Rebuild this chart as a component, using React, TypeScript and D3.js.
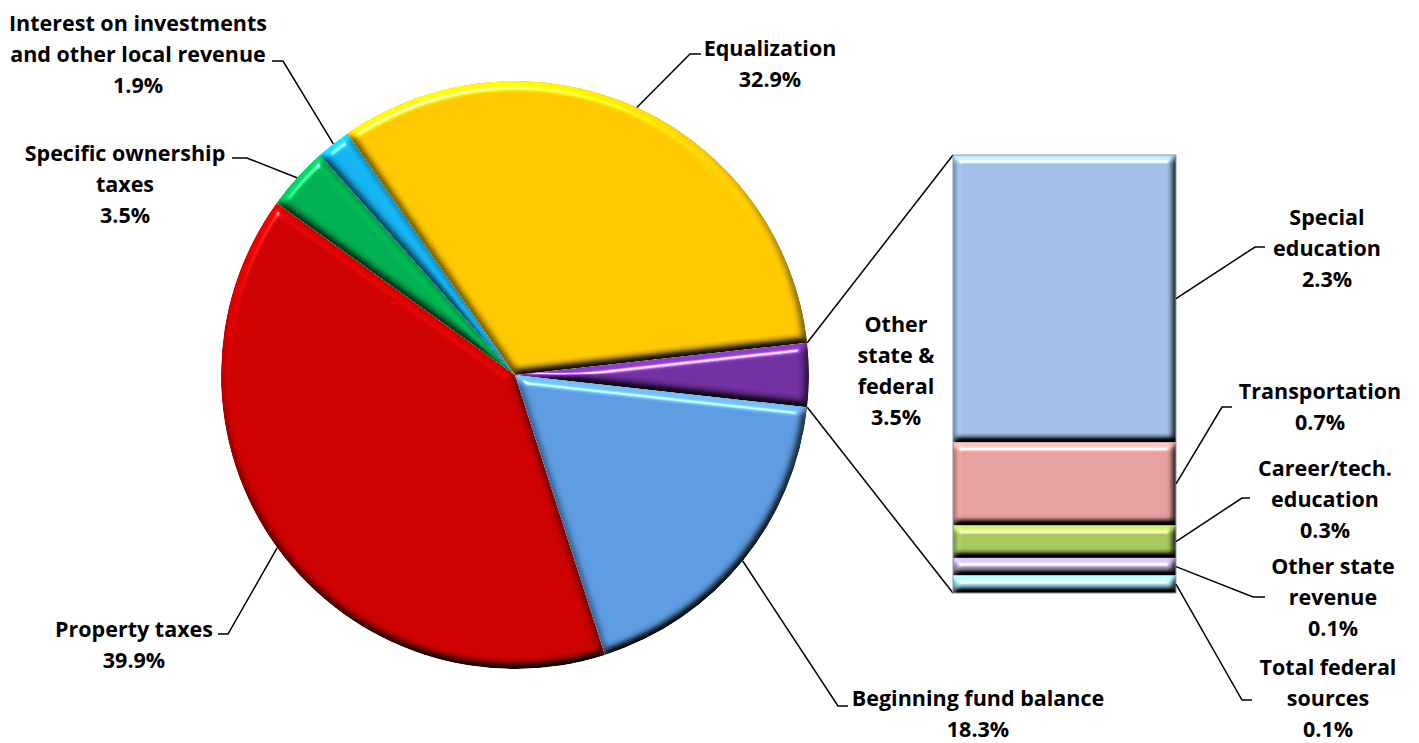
import * as d3 from 'd3'

// pie slices, clockwise starting with the "other" slice at 3 o'clock
const categories = [
  'Other state & federal',
  'Beginning fund balance',
  'Property taxes',
  'Specific ownership taxes',
  'Interest on investments and other local revenue',
  'Equalization',
]
const shares = [3.5, 18.3, 39.9, 3.5, 1.9, 32.9]
const sliceColors = ['#7030A0', '#5C9BE0', '#CC0000', '#00B050', '#14B2F0', '#FFC800']
const pieLabelLines = [
  ['Other', 'state &', 'federal'],
  ['Beginning fund balance'],
  ['Property taxes'],
  ['Specific ownership', 'taxes'],
  ['Interest on investments', 'and other local revenue'],
  ['Equalization'],
]

// breakdown of "Other state & federal", top to bottom
const barCategories = [
  'Special education',
  'Transportation',
  'Career/tech. education',
  'Other state revenue',
  'Total federal sources',
]
const barShares = [2.29, 0.66, 0.26, 0.14, 0.14]
const barShareLabels = ['2.3%', '0.7%', '0.3%', '0.1%', '0.1%']
const barColors = ['#A0BEE4', '#E59F9C', '#A6C660', '#B5A3CA', '#9ADDEA']
const barLabelLines = [
  ['Special', 'education'],
  ['Transportation'],
  ['Career/tech.', 'education'],
  ['Other state', 'revenue'],
  ['Total federal', 'sources'],
]

// label placement: centre x, first baseline, leader elbow and end
const pieLabelPos: any[] = [
  { cx: 896, y: 332 },
  { cx: 978, y: 706, elbow: [838, 706], end: 848 },
  { cx: 134, y: 637, elbow: [228, 634], end: 218 },
  { cx: 125, y: 161, elbow: [247, 158], end: 232 },
  { cx: 138, y: 31, elbow: [283, 61], end: 272 },
  { cx: 770, y: 56, elbow: [690, 54], end: 701 },
]
const barLabelPos: any[] = [
  { cx: 1327, y: 225, elbow: [1255, 247], end: 1265 },
  { cx: 1320, y: 399, elbow: [1222, 407], end: 1232 },
  { cx: 1325, y: 476, elbow: [1242, 498], end: 1250 },
  { cx: 1333, y: 574, elbow: [1253, 597], end: 1265 },
  { cx: 1328, y: 675, elbow: [1242, 700], end: 1252 },
]

const W = 1419
const H = 743
const CX = 515
const CY = 375
const R = 294
const BAR_X0 = 953
const BAR_X1 = 1176
const BAR_Y0 = 155
const BAR_Y1 = 593
const LINE_H = 31
const FONT = '"Open Sans", Lato, sans-serif'
const FONT_SIZE = 21.5

const Bevel = ({ id, blur, scale }: any) => (
  <filter id={id} x="-10%" y="-10%" width="120%" height="120%" colorInterpolationFilters="sRGB">
    <feGaussianBlur in="SourceAlpha" stdDeviation={blur} result="blur" />
    <feDiffuseLighting in="blur" surfaceScale={scale} diffuseConstant="1" lightingColor="#fff" result="diff">
      <feDistantLight azimuth="250" elevation="50" />
    </feDiffuseLighting>
    <feComposite in="SourceGraphic" in2="diff" operator="arithmetic" k1="1.305" k2="0" k3="0" k4="0" result="shaded" />
    <feSpecularLighting in="blur" surfaceScale={scale} specularConstant="0.9" specularExponent="80" lightingColor="#fff" result="spec">
      <feDistantLight azimuth="250" elevation="50" />
    </feSpecularLighting>
    <feComposite in="spec" in2="SourceAlpha" operator="in" result="specIn" />
    <feComposite in="shaded" in2="specIn" operator="arithmetic" k1="0" k2="1" k3="1" k4="0" result="lit" />
    <feComposite in="lit" in2="SourceAlpha" operator="in" />
  </filter>
)

const Label = ({ cx, y, lines }: any) => (
  <text x={cx} y={y} textAnchor="middle" fontFamily={FONT} fontSize={FONT_SIZE} fontWeight="bold" fill="#000">
    {lines.map((l: string, i: number) => (
      <tspan key={i} x={cx} dy={i === 0 ? 0 : LINE_H}>
        {l}
      </tspan>
    ))}
  </text>
)

export default function App() {
  const total = d3.sum(shares)
  const otherAngle = (shares[0] / total) * 2 * Math.PI
  const start = Math.PI / 2 - otherAngle / 2
  const pie = d3
    .pie<number>()
    .sort(null)
    .value((d) => d)
    .startAngle(start)
    .endAngle(start + 2 * Math.PI)
  const arcs = pie(shares)
  const arc = d3.arc<any>().innerRadius(0).outerRadius(R)

  // d3 angles are clockwise from 12 o'clock
  const onRim = (a: number, r = R) => [CX + r * Math.sin(a), CY - r * Math.cos(a)]

  const barTotal = d3.sum(barShares)
  const y = d3.scaleLinear().domain([0, barTotal]).range([BAR_Y0, BAR_Y1])
  const cum = d3.cumsum(barShares)
  const segs = barShares.map((v, i) => ({ v, y0: y(cum[i] - v), y1: y(cum[i]) }))

  const other = arcs[0]
  const cTop = onRim(other.startAngle)
  const cBot = onRim(other.endAngle)

  return (
    <svg width={W} height={H} style={{ position: 'absolute', left: 0, top: 0, background: '#fff' }}>
      <defs>
        <Bevel id="bevelPie" blur={4} scale={6} />
        <Bevel id="bevelBar" blur={3.5} scale={7} />
      </defs>

      <g transform={`translate(${CX},${CY})`}>
        {arcs.map((a, i) => (
          <path key={categories[i]} d={arc(a) as string} fill={sliceColors[i]} filter="url(#bevelPie)" />
        ))}
      </g>

      {/* connectors from the "other" slice to the bar */}
      <line x1={cTop[0]} y1={cTop[1]} x2={BAR_X0} y2={BAR_Y0} stroke="#000" strokeWidth={1.5} />
      <line x1={cBot[0]} y1={cBot[1]} x2={BAR_X0} y2={BAR_Y1} stroke="#000" strokeWidth={1.5} />

      {segs.map((s, i) => (
        <rect
          key={barCategories[i]}
          x={BAR_X0}
          y={s.y0}
          width={BAR_X1 - BAR_X0}
          height={s.y1 - s.y0}
          fill={barColors[i]}
          filter="url(#bevelBar)"
        />
      ))}
      <rect x={BAR_X0} y={BAR_Y0} width={BAR_X1 - BAR_X0} height={BAR_Y1 - BAR_Y0} fill="none" stroke="#8a96a3" strokeWidth={1} />

      {/* pie leaders and labels */}
      {arcs.map((a, i) => {
        const p = pieLabelPos[i]
        const lines = [...pieLabelLines[i], `${shares[i].toFixed(1)}%`]
        let leader = null
        if (p.elbow) {
          const s = onRim((a.startAngle + a.endAngle) / 2)
          leader = (
            <polyline
              points={`${s[0]},${s[1]} ${p.elbow[0]},${p.elbow[1]} ${p.end},${p.elbow[1]}`}
              fill="none"
              stroke="#000"
              strokeWidth={1.5}
            />
          )
        }
        return (
          <g key={categories[i]}>
            {leader}
            <Label cx={p.cx} y={p.y} lines={lines} />
          </g>
        )
      })}

      {/* bar leaders and labels */}
      {segs.map((s, i) => {
        const p = barLabelPos[i]
        const sy = (s.y0 + s.y1) / 2
        return (
          <g key={barCategories[i]}>
            <polyline
              points={`${BAR_X1},${sy} ${p.elbow[0]},${p.elbow[1]} ${p.end},${p.elbow[1]}`}
              fill="none"
              stroke="#000"
              strokeWidth={1.5}
            />
            <Label cx={p.cx} y={p.y} lines={[...barLabelLines[i], barShareLabels[i]]} />
          </g>
        )
      })}
    </svg>
  )
}
